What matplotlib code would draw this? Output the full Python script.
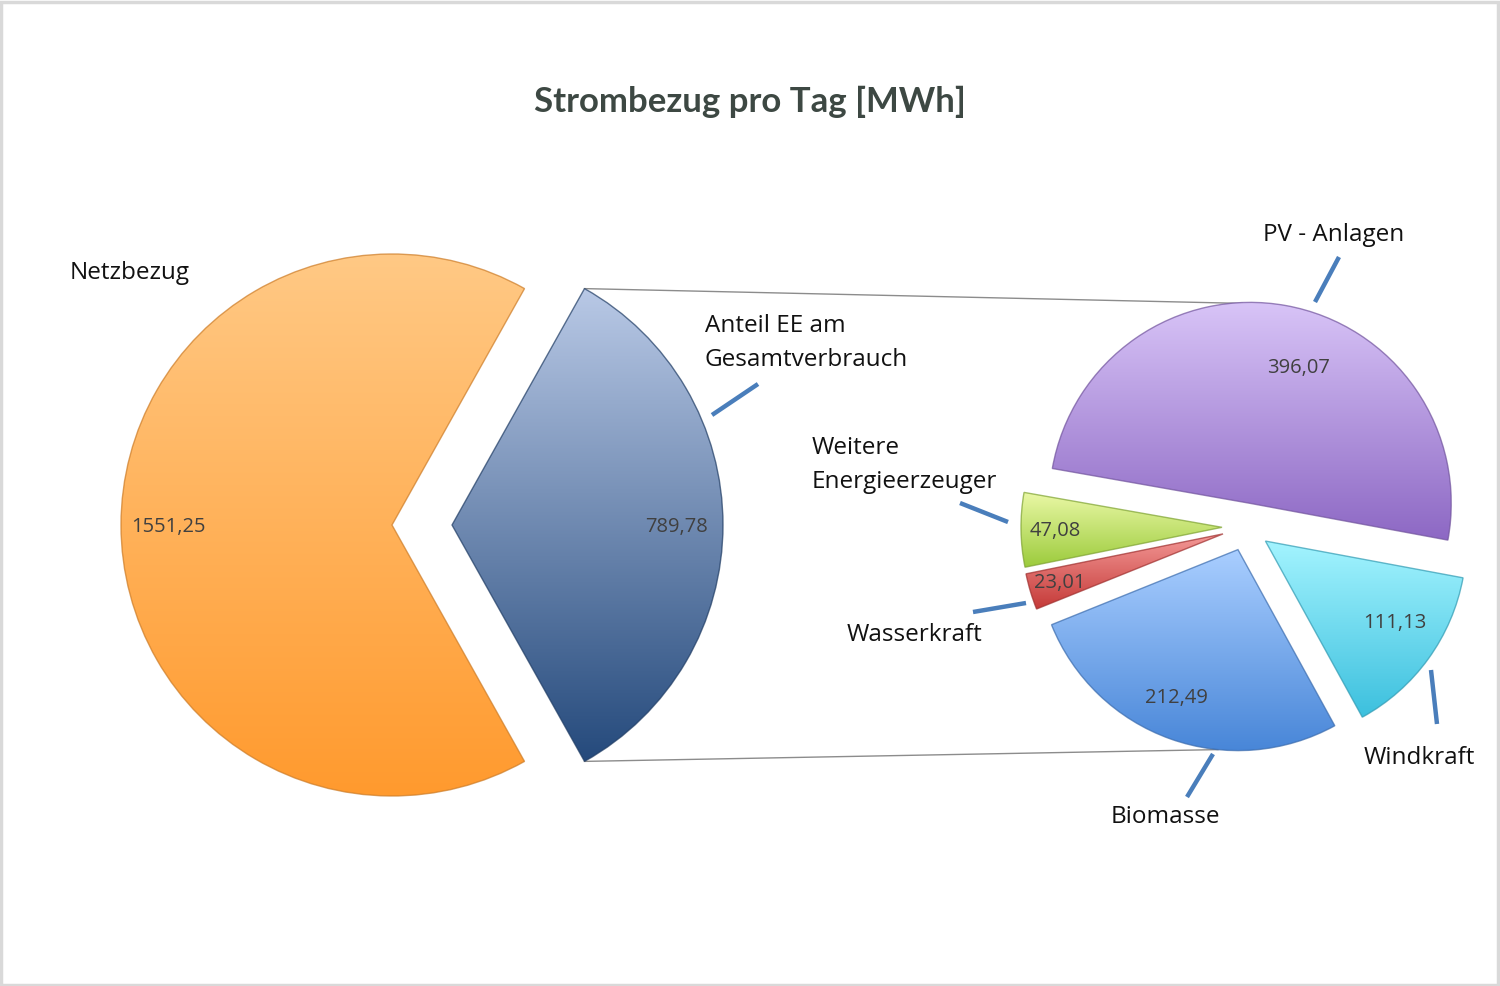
import numpy as np
import matplotlib
matplotlib.use("Agg")
from matplotlib import pyplot as plt
from matplotlib.colors import to_rgb
from matplotlib.patches import Rectangle

# primary pie
main_labels = ['Anteil EE am\nGesamtverbrauch', 'Netzbezug']
main_values = [789.78, 1551.25]
# secondary pie (split of EE), clockwise from PV
sub_labels = ['PV - Anlagen', 'Windkraft', 'Biomasse', 'Wasserkraft', 'Weitere\nEnergieerzeuger']
sub_values = [396.07, 111.13, 212.49, 23.01, 47.08]

main_grad = [('#b9c9e6', '#254a7c'), ('#ffc985', '#ff9a2e')]
sub_grad = [('#d8c4f7', '#8d68c4'), ('#a4f4ff', '#3cc0de'), ('#a9ceff', '#4886d8'),
            ('#f49a98', '#c53a38'), ('#eaf8a6', '#9ccb3c')]

H = 986
def py(y):
    return H - y

def fmt(v):
    return ('%.2f' % v).replace('.', ',')

fig = plt.figure(figsize=(15, 9.86), dpi=100)
ax = fig.add_axes([0, 0, 1, 1])

ee_angle = 360 * main_values[0] / sum(main_values)
w_main, _ = ax.pie(main_values, startangle=-ee_angle / 2, explode=[60, 0],
                   radius=271, center=(392, py(525)), frame=True,
                   wedgeprops=dict(linewidth=0))
w_sub, _ = ax.pie(sub_values, startangle=170, counterclock=False, explode=[24] * 5,
                  radius=201, center=(1246, py(527)), frame=True,
                  wedgeprops=dict(linewidth=0))

def shade(w, top, bot):
    ext = w.get_path().get_extents()
    t = np.linspace(0, 1, 256)[:, None]
    c0, c1 = np.array(to_rgb(bot)), np.array(to_rgb(top))
    img = (c0 + (c1 - c0) * t)[:, None, :]
    im = ax.imshow(img, extent=(ext.x0, ext.x1, ext.y0, ext.y1), origin='lower',
                   aspect='auto', zorder=2, interpolation='bilinear')
    im.set_clip_path(w)
    edge = np.array(to_rgb(bot)) * 0.8
    w.set_facecolor('none')
    w.set_edgecolor((*edge, 0.7))
    w.set_linewidth(1.0)
    w.set_zorder(3)

for w, (a, b) in zip(w_main, main_grad):
    shade(w, a, b)
for w, (a, b) in zip(w_sub, sub_grad):
    shade(w, a, b)

# connector lines between the pies
ee = w_main[0]
cx, cy = ee.center
p_top = (cx + ee.r * np.cos(np.radians(ee.theta2)), cy + ee.r * np.sin(np.radians(ee.theta2)))
p_bot = (cx + ee.r * np.cos(np.radians(ee.theta1)), cy + ee.r * np.sin(np.radians(ee.theta1)))
pv, bio = w_sub[0], w_sub[2]
ax.plot([p_top[0], pv.center[0] - 8], [p_top[1], pv.center[1] + pv.r - 1], color='#8c8c8c', lw=1.0, zorder=1)
ax.plot([p_bot[0], bio.center[0] - 20], [p_bot[1], bio.center[1] - bio.r + 1], color='#8c8c8c', lw=1.0, zorder=1)

# value labels
val_pos_main = [(677, 527), (168, 527)]
val_pos_sub = [(1298, 368), (1395, 623), (1176, 698), (1060, 583), (1055, 531)]
for v, (x, y) in zip(main_values, val_pos_main):
    ax.text(x, py(y), fmt(v), ha='center', va='center', fontsize=14.5,
            color='#404040', family='Open Sans', zorder=5)
for v, (x, y) in zip(sub_values, val_pos_sub):
    ax.text(x, py(y), fmt(v), ha='center', va='center', fontsize=14.5,
            color='#404040', family='Open Sans', zorder=5)

# category labels with leader lines
lab_pos_main = [(705, 343), (70, 273)]
lab_pos_sub = [(1263, 235), (1364, 758), (1111, 817), (847, 635), (812, 465)]
leader_main = [((712, 415), (758, 384)), None]
leader_sub = [((1315, 302), (1339, 257)), ((1437, 724), (1431, 670)), ((1187, 797), (1213, 754)),
              ((973, 612), (1026, 603)), ((960, 503), (1008, 522))]
for lab, (x, y), ld in zip(main_labels + sub_labels, lab_pos_main + lab_pos_sub,
                           leader_main + leader_sub):
    ax.text(x, py(y), lab, ha='left', va='center', fontsize=17.5, color='#111111',
            family='Open Sans', linespacing=1.6, zorder=5)
    if ld is not None:
        (x0, y0), (x1, y1) = ld
        ax.plot([x0, x1], [py(y0), py(y1)], color='#4a7ebb', lw=3.2,
                solid_capstyle='butt', zorder=4)

ax.text(750, py(102), 'Strombezug pro Tag [MWh]', ha='center', va='center',
        fontsize=25, fontweight='bold', color='#3d4843', family='Lato')

ax.add_patch(Rectangle((1, 1), 1497, 983, fill=False, edgecolor='#d9d9d9', lw=2.5, zorder=6))

ax.set_xlim(0, 1500)
ax.set_ylim(0, H)
ax.set_aspect('auto')
ax.axis('off')
fig.savefig('out.png', dpi=100)
